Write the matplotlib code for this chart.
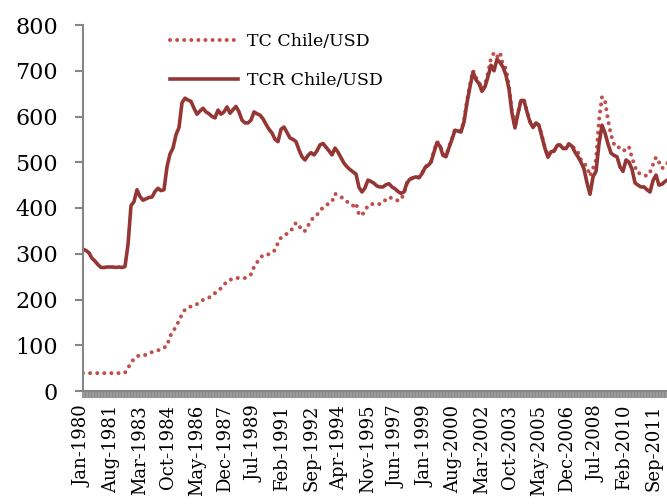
import numpy as np
import matplotlib
matplotlib.use("Agg")
import matplotlib.pyplot as plt

plt.rcParams["font.family"] = ["DejaVu Serif"]

# months since Jan-1980, one reading every two months
months = np.arange(0, 392, 2)

# real exchange rate (solid line)
tcr = [
    310, 307, 302, 290, 284, 276, 270, 270, 271, 271, 271, 270, 271, 270, 272, 320,
    405, 414, 440, 425, 417, 420, 423, 424, 436, 443, 438, 440, 490, 518, 531, 560,
    576, 630, 640, 636, 633, 618, 605, 612, 618, 610, 606, 600, 597, 614, 605, 610,
    621, 607, 615, 622, 610, 592, 586, 586, 592, 610, 606, 603, 595, 583, 572, 564,
    550, 545, 572, 577, 565, 553, 550, 545, 527, 512, 505, 515, 521, 516, 525, 538,
    541, 533, 525, 516, 531, 522, 510, 498, 490, 484, 479, 474, 445, 435, 444, 461,
    458, 454, 448, 446, 446, 451, 453, 446, 442, 436, 432, 435, 455, 463, 466, 468,
    466, 475, 488, 493, 500, 522, 543, 535, 515, 512, 532, 550, 570, 568, 566, 588,
    630, 665, 697, 680, 672, 655, 665, 687, 712, 700, 725, 718, 708, 690, 660, 607,
    575, 607, 635, 635, 610, 588, 576, 586, 580, 555, 530, 511, 523, 524, 536, 538,
    530, 530, 540, 535, 522, 512, 500, 485, 455, 430, 468, 480, 540, 581, 564, 540,
    520, 515, 512, 490, 480, 505, 500, 485, 455, 450, 446, 446, 440, 435, 460, 472,
    450, 452, 458, 462,
]

# nominal exchange rate (dotted line)
tc = [
    39, 39, 39, 39, 39, 39, 39, 39, 39, 39, 39, 39, 39, 39, 40, 50,
    62, 70, 76, 78, 78, 79, 82, 85, 87, 89, 91, 95, 98, 120, 129, 142,
    153, 168, 178, 182, 185, 187, 190, 195, 199, 202, 204, 210, 214, 218, 225, 232,
    240, 243, 245, 247, 247, 247, 247, 251, 255, 271, 281, 290, 297, 298, 299, 303,
    308, 324, 335, 339, 344, 348, 357, 368, 362, 350, 350, 361, 373, 380, 385, 394,
    401, 406, 410, 414, 431, 428, 424, 420, 414, 408, 405, 411, 385, 384, 395, 405,
    409, 408, 407, 409, 412, 419, 424, 421, 419, 416, 418, 432, 455, 462, 466, 468,
    467, 476, 490, 494, 502, 524, 545, 538, 518, 514, 534, 552, 572, 570, 568, 592,
    635, 670, 700, 685, 676, 660, 670, 695, 728, 739, 730, 740, 712, 705, 665, 610,
    577, 608, 636, 636, 611, 589, 578, 587, 581, 557, 532, 513, 524, 525, 537, 539,
    531, 531, 541, 537, 528, 522, 505, 498, 490, 470, 487, 505, 592, 643, 635, 592,
    560, 540, 540, 527, 527, 525, 533, 510, 490, 476, 476, 472, 470, 478, 495, 511,
    500, 487, 490, 500,
]

tick_labels = [
    "Jan-1980", "Aug-1981", "Mar-1983", "Oct-1984", "May-1986", "Dec-1987",
    "Jul-1989", "Feb-1991", "Sep-1992", "Apr-1994", "Nov-1995", "Jun-1997",
    "Jan-1999", "Aug-2000", "Mar-2002", "Oct-2003", "May-2005", "Dec-2006",
    "Jul-2008", "Feb-2010", "Sep-2011",
]

fig = plt.figure(figsize=(6.67, 5.04), dpi=100)
ax = fig.add_axes([83 / 667, 113 / 504, 584 / 667, 366 / 504])

ax.plot(months, tc, color="#C0504D", lw=2.9, linestyle=(0, (0.01, 1.75)),
        dash_capstyle="round", label="TC Chile/USD")
ax.plot(months, tcr, color="#943634", lw=2.6, label="TCR Chile/USD")

ax.set_xlim(0, 584 / 1.5)
ax.set_ylim(0, 800)
ax.set_yticks(range(0, 801, 100))
ax.set_xticks(np.arange(0, 389, 19))
ax.set_xticklabels(tick_labels, rotation=90)
ax.set_xticks(np.arange(0, 390), minor=True)

for s in ["top", "right"]:
    ax.spines[s].set_visible(False)
for s in ["left", "bottom"]:
    ax.spines[s].set_color("#868686")
    ax.spines[s].set_linewidth(1.5)

ax.tick_params(axis="y", length=6, width=1.5, color="#868686", pad=12, labelsize=16)
ax.tick_params(axis="x", which="both", length=5, width=1.2, color="#868686",
               pad=5, labelsize=13)

ax.legend(loc="upper left", bbox_to_anchor=(0.149, 0.977), frameon=False,
          fontsize=12.5, handlelength=3.9, handletextpad=0.55, labelspacing=1.25,
          borderpad=0, borderaxespad=0)

fig.savefig("out.png", dpi=100)
